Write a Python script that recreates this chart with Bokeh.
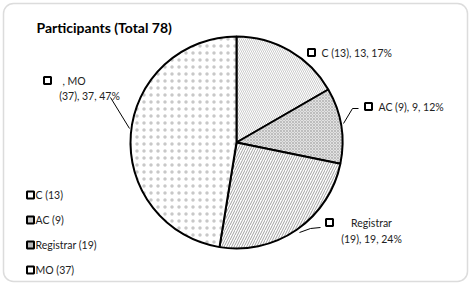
import math
from bokeh.plotting import figure
from bokeh.models import Range1d, BoxAnnotation
from bokeh.core.properties import value
from bokeh.embed import file_html
from bokeh.resources import INLINE

# ---- data ----
title_text = "Participants (Total 78)"
categories = ["C", "AC", "Registrar", "MO"]
counts = [13, 9, 19, 37]
legend_labels = ["C (13)", "AC (9)", "Registrar (19)", "MO (37)"]
percent_labels = ["17%", "12%", "24%", "47%"]

W, H = 471, 285
FONT = "Lato"


def Y(v):
    return H - v


p = figure(width=W, height=H, output_backend="svg", toolbar_location=None,
           x_range=Range1d(0, W), y_range=Range1d(0, H), min_border=0)
p.axis.visible = False
p.grid.visible = False
p.outline_line_color = None
p.background_fill_color = "white"
p.border_fill_color = "white"

# frame
p.add_layout(BoxAnnotation(left=3, right=467, bottom=Y(281), top=Y(3),
                           fill_color=None, line_color="#8a8a8a", line_width=1.5,
                           border_radius=10))

# ---- pie ----
total = sum(counts)
cx, cy, r = 236, Y(142), 106
starts, ends = [], []
cum = 0
for c in counts:
    starts.append(math.pi / 2 - cum / total * 2 * math.pi)
    cum += c
    ends.append(math.pi / 2 - cum / total * 2 * math.pi)

styles = [
    dict(fill_color="white", hatch_pattern="left_diagonal_line", hatch_color="#cccccc",
         hatch_scale=4, hatch_weight=1),
    dict(fill_color="#e2e2e2", hatch_pattern="diagonal_cross", hatch_color="#bdbdbd",
         hatch_scale=3, hatch_weight=1),
    dict(fill_color="white", hatch_pattern="right_diagonal_line", hatch_color="#a0a0a0",
         hatch_scale=5, hatch_weight=1),
    dict(fill_color="white", hatch_pattern="dot", hatch_color="#c8c8c8",
         hatch_scale=7, hatch_weight=0.9),
]
for i in range(len(counts)):
    p.wedge(x=cx, y=cy, radius=r, start_angle=starts[i], end_angle=ends[i],
            direction="clock", line_color="black", line_width=2, **styles[i])

# ---- data labels ----
lab_txt = dict(text_font=value(FONT), text_font_size="10.5px", text_color="#222222",
               text_baseline="middle")
mk = dict(marker="square", size=7, fill_color="white", line_color="black", line_width=2)

# C
p.scatter([311], [Y(52)], **mk)
p.text([321], [Y(52)], text=[f"{legend_labels[0]}, {counts[0]}, {percent_labels[0]}"], **lab_txt)
# AC
p.scatter([368], [Y(106)], **mk)
p.text([378], [Y(106)], text=[f"{legend_labels[1]}, {counts[1]}, {percent_labels[1]}"], **lab_txt)
p.line([343, 352, 358], [Y(123), Y(108), Y(108)], line_color="black", line_width=1)
# Registrar
p.scatter([329], [Y(222)], **mk)
p.text([371], [Y(222)], text=[categories[2]], text_align="center", **lab_txt)
p.text([371], [Y(238)], text=[f"({counts[2]}), {counts[2]}, {percent_labels[2]}"],
       text_align="center", **lab_txt)
p.line([299, 310, 320], [Y(232), Y(228), Y(227)], line_color="black", line_width=1)
# MO
p.scatter([47], [Y(80)], **mk)
p.text([62], [Y(80)], text=[f", {categories[3]}"], **lab_txt)
p.text([89], [Y(95)], text=[f"({counts[3]}), {counts[3]}, {percent_labels[3]}"],
       text_align="center", **lab_txt)
p.line([110, 129], [Y(97), Y(128)], line_color="black", line_width=1)

# ---- legend ----
leg_y = [194.5, 219.5, 244.5, 269.5]
leg_fill = ["white", "#c8c8c8", "#b8b8b8", "white"]
for i in range(len(categories)):
    p.scatter([30], [Y(leg_y[i])], marker="square", size=7, fill_color=leg_fill[i],
              line_color="black", line_width=2)
    p.text([35], [Y(leg_y[i])], text=[legend_labels[i]], **lab_txt)

# ---- title ----
p.text([36], [Y(27)], text=[title_text], text_font=value(FONT), text_font_size="14px",
       text_font_style="bold", text_color="black", text_baseline="middle")

open("out.html", "w").write(file_html(p, INLINE))
